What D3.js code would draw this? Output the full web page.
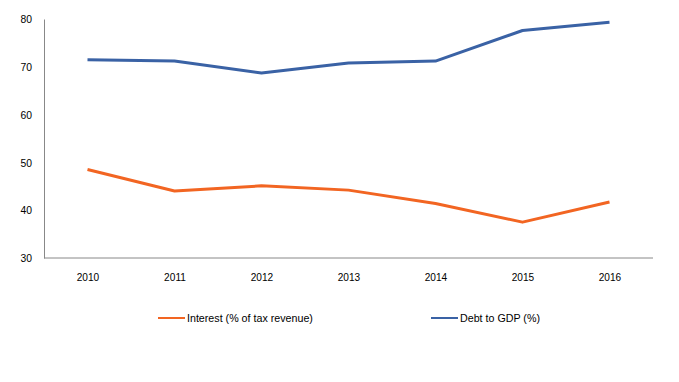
<!DOCTYPE html>
<html><head><meta charset="utf-8">
<script src="https://cdn.jsdelivr.net/npm/d3@7"></script>
<style>
html,body{margin:0;padding:0;background:#fff;}
svg text{font-family:"Liberation Sans",Arial,sans-serif;font-size:11.5px;fill:#000;transform-box:fill-box;}
.xa text{transform-origin:center;transform:scaleX(0.88);}
.ya text{transform-origin:right center;transform:scaleX(0.9);}
.leg text{transform-origin:left center;transform:scaleX(0.93);}
</style></head>
<body>
<svg id="chart" width="679" height="382"></svg>
<script>
const years = ["2010","2011","2012","2013","2014","2015","2016"];
const interest = [48.5, 44.0, 45.1, 44.2, 41.4, 37.5, 41.7];
const debt = [71.5, 71.2, 68.7, 70.8, 71.2, 77.6, 79.3];
const yTicks = [30, 40, 50, 60, 70, 80];
const seriesNames = ["Interest (% of tax revenue)", "Debt to GDP (%)"];
const seriesColors = ["#F26522", "#3A62A5"];

(function(){
const svg = d3.select("#chart");
const mL = 44, mR = 653, mT = 19, mB = 258;

const x = d3.scalePoint().domain(years).range([mL, mR]).padding(0.5);
const y = d3.scaleLinear().domain([30, 80]).range([mB, mT]);

const yAxis = svg.append("g").attr("class","ya").attr("transform", `translate(${mL},0)`)
  .call(d3.axisLeft(y).tickValues(yTicks).tickSize(0).tickPadding(12));
yAxis.select(".domain").attr("stroke", "#888");
yAxis.selectAll("text").attr("font-size", null);

const xAxis = svg.append("g").attr("class","xa").attr("transform", `translate(0,${mB})`)
  .call(d3.axisBottom(x).tickSize(0).tickPadding(15));
xAxis.select(".domain").attr("stroke", "#888").attr("d", `M${mL},0H${mR}`);
xAxis.attr("font-size", null);
yAxis.attr("font-size", null);

const line = d3.line().x((d,i)=>x(years[i])).y(d=>y(d));
[interest, debt].forEach((s,k)=>{
  svg.append("path").datum(s).attr("d", line)
    .attr("fill","none").attr("stroke", seriesColors[k])
    .attr("stroke-width", 3).attr("stroke-linejoin","round");
});

const legX = [158, 431];
const legY = 318;
const leg = svg.append("g").attr("class","leg");
seriesNames.forEach((n,k)=>{
  leg.append("line").attr("x1", legX[k]).attr("x2", legX[k]+27)
    .attr("y1", legY).attr("y2", legY)
    .attr("stroke", seriesColors[k]).attr("stroke-width", 2);
  leg.append("text").attr("x", legX[k]+29).attr("y", legY).attr("dy","0.35em").text(n);
});
})();
</script>
</body></html>
